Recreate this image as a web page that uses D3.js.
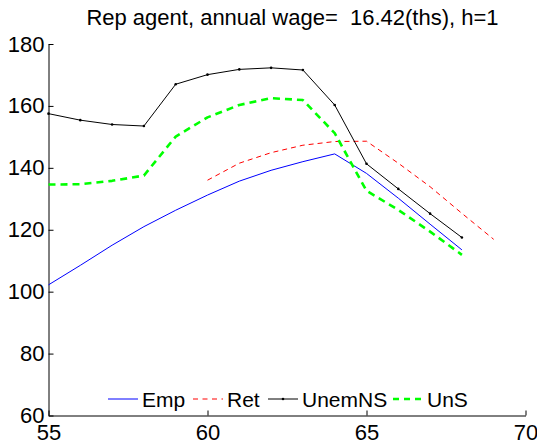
<!DOCTYPE html>
<html>
<head>
<meta charset="utf-8">
<script src="https://cdn.jsdelivr.net/npm/d3@7"></script>
<style>
  html, body { margin: 0; padding: 0; background: #fff; }
  svg { display: block; font-family: "Liberation Sans", Arial, Helvetica, sans-serif; }
</style>
</head>
<body>
<svg id="chart" width="537" height="445"></svg>
<script>
const title = "Rep agent, annual wage=  16.42(ths), h=1";
const ages = [55, 56, 57, 58, 59, 60, 61, 62, 63, 64, 65, 66, 67, 68];
const retAges = [60, 61, 62, 63, 64, 65, 66, 67, 68, 69];
const emp = [102.2, 108.5, 115.0, 121.0, 126.3, 131.2, 135.7, 139.2, 142.0, 144.5, 138.2, 130.2, 121.8, 113.5];
const ret = [136.0, 141.5, 144.9, 147.3, 148.5, 148.6, 141.5, 133.9, 125.3, 116.9];
const unemNS = [157.5, 155.4, 154.0, 153.5, 167.0, 170.1, 171.8, 172.3, 171.6, 160.3, 141.3, 133.2, 125.2, 117.5];
const uns = [134.6, 134.7, 135.8, 137.5, 150.1, 156.3, 160.3, 162.5, 161.9, 151.2, 132.6, 126.4, 119.4, 111.9];
const xTicks = [55, 60, 65, 70];
const yTicks = [60, 80, 100, 120, 140, 160, 180];
const seriesNames = ["Emp", "Ret", "UnemNS", "UnS"];

const svg = d3.select("#chart");
const x = d3.scaleLinear().domain([55, 70]).range([48.5, 525.5]);
const y = d3.scaleLinear().domain([60, 180]).range([415.5, 44]);

const styles = {
  Emp: { color: "#0000ff", width: 1, dash: null, marker: false },
  Ret: { color: "#ff0000", width: 1, dash: "5,4", marker: false },
  UnemNS: { color: "#000000", width: 1, dash: null, marker: true },
  UnS: { color: "#00ff00", width: 2.6, dash: "7,5", marker: false }
};

const series = [
  { name: "Emp", xs: ages, ys: emp },
  { name: "Ret", xs: retAges, ys: ret },
  { name: "UnemNS", xs: ages, ys: unemNS },
  { name: "UnS", xs: ages, ys: uns }
];

// axes
const fs = 22;
const yAxis = d3.axisLeft(y).tickValues(yTicks).tickSizeInner(-5).tickSizeOuter(0).tickPadding(4).tickFormat(d3.format("d"));
const gy = svg.append("g").attr("transform", `translate(${x.range()[0]},0)`).call(yAxis);
const xAxis = d3.axisBottom(x).tickValues(xTicks).tickSizeInner(-5).tickSizeOuter(0).tickPadding(8).tickFormat(d3.format("d"));
const gx = svg.append("g").attr("transform", `translate(0,${y.range()[0]})`).call(xAxis);
[gx, gy].forEach(g => {
  g.selectAll("text").attr("font-size", fs).attr("fill", "#000").attr("font-family", "Liberation Sans, Arial, sans-serif");
  g.select(".domain").attr("stroke", "#000");
  g.selectAll(".tick line").attr("stroke", "#000");
});
gx.selectAll("text").attr("dy", null).attr("y", 24);

// lines
const line = d3.line();
series.forEach(s => {
  const st = styles[s.name];
  const pts = s.xs.map((a, i) => [x(a), y(s.ys[i])]);
  svg.append("path")
    .attr("d", line(pts))
    .attr("fill", "none")
    .attr("stroke", st.color)
    .attr("stroke-width", st.width)
    .attr("stroke-dasharray", st.dash)
    .attr("stroke-linejoin", "round");
  if (st.marker) {
    svg.append("g").selectAll("circle").data(pts).join("circle")
      .attr("cx", d => d[0]).attr("cy", d => d[1]).attr("r", 1.3).attr("fill", st.color);
  }
});

// title
svg.append("text")
  .attr("x", 292.5)
  .attr("y", 25)
  .attr("text-anchor", "middle")
  .attr("font-size", 22)
  .attr("fill", "#000")
  .attr("xml:space", "preserve")
  .style("white-space", "pre")
  .text(title);

// legend
const legY = 399;
const legStarts = [108, 193, 268, 393];
seriesNames.forEach((n, i) => {
  const st = styles[n];
  const x0 = legStarts[i];
  svg.append("line")
    .attr("x1", x0).attr("x2", x0 + 30).attr("y1", legY).attr("y2", legY)
    .attr("stroke", st.color).attr("stroke-width", st.width)
    .attr("stroke-dasharray", st.dash ? (n === "UnS" ? "6,5" : "5,4.5") : null);
  if (st.marker) {
    svg.append("circle").attr("cx", x0 + 15).attr("cy", legY).attr("r", 1.3).attr("fill", st.color);
  }
  svg.append("text")
    .attr("x", x0 + 34).attr("y", legY + 7.5)
    .attr("font-size", 21).attr("fill", "#000")
    .text(n);
});
</script>
</body>
</html>
